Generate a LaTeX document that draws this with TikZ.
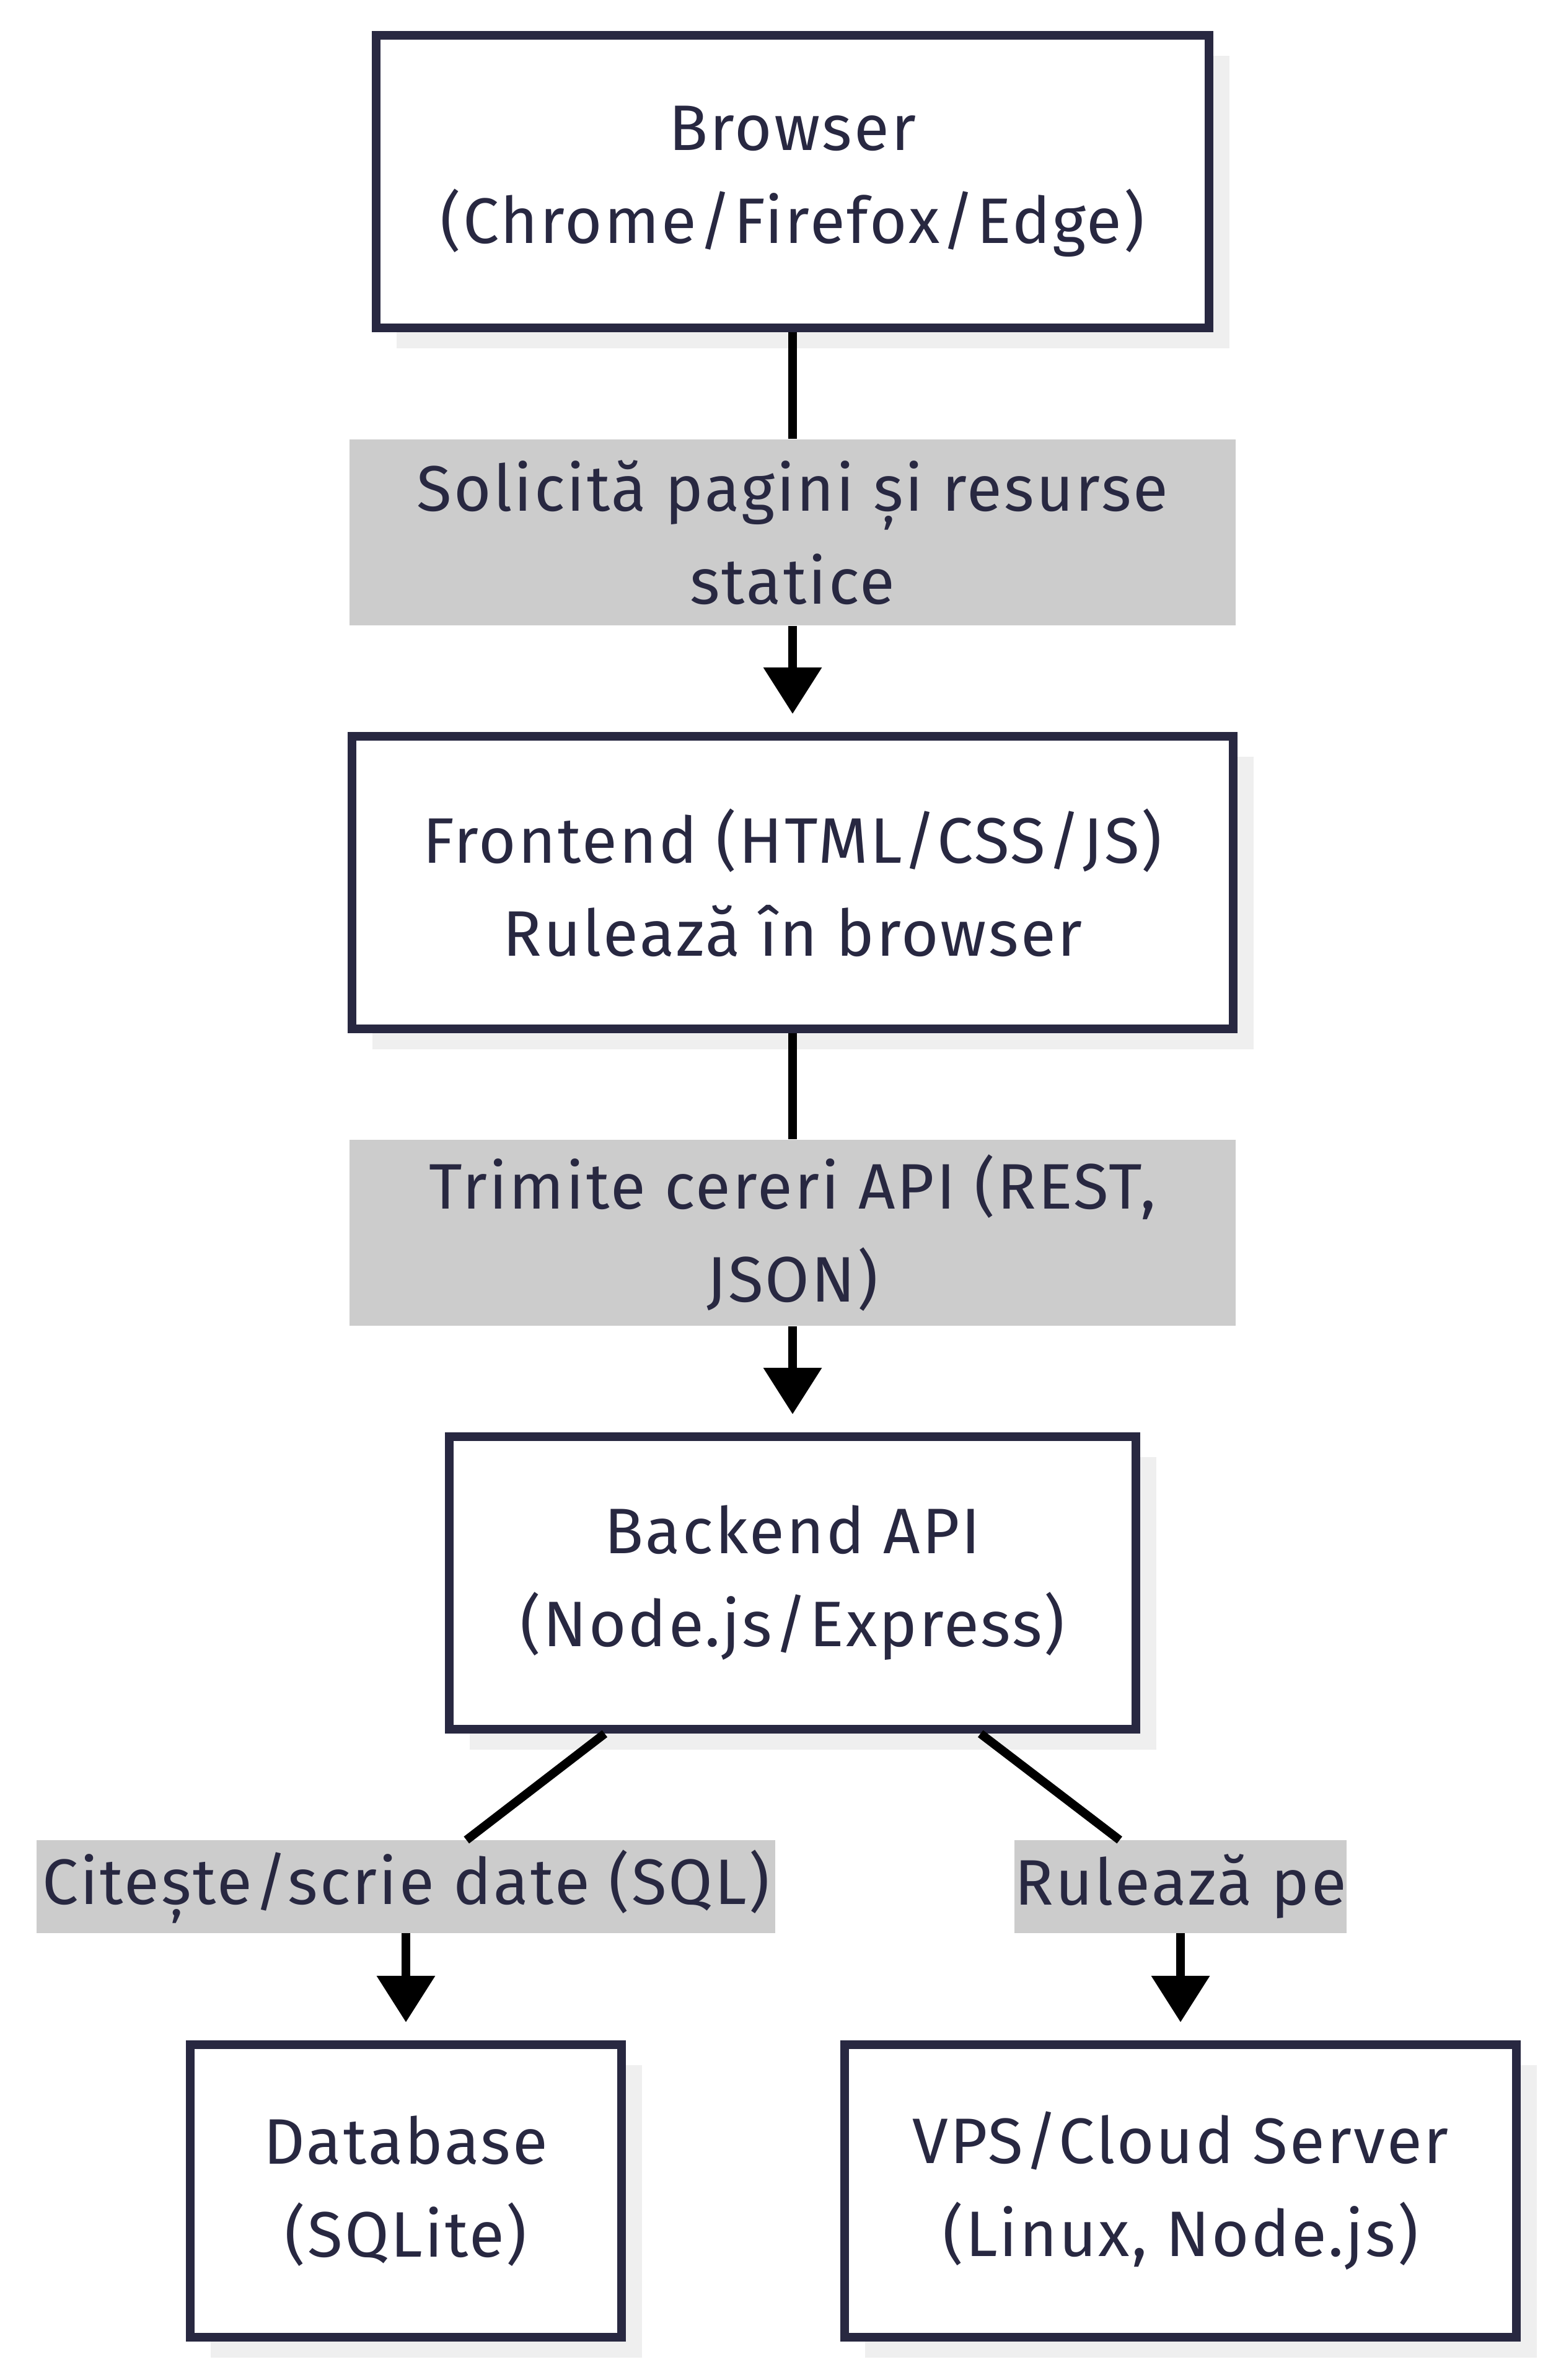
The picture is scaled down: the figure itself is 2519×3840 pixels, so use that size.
\documentclass[tikz,border=0pt]{standalone}
\usepackage{fontspec}
\setmainfont[LetterSpace=3]{Fira Sans}
\usepackage{tikz}
\usetikzlibrary{arrows.meta,shadows}
\definecolor{ink}{HTML}{282841}
\definecolor{lblgray}{HTML}{CCCCCC}
\definecolor{shadowgray}{HTML}{EFEFEF}

\begin{document}
\begin{tikzpicture}[x=0.01cm, y=-0.01cm,
    box/.style={draw=ink, line width=0.14cm, fill=white, text=ink, align=center,
        inner sep=0pt, minimum height=4.72cm,
        drop shadow={shadow xshift=0.33cm, shadow yshift=-0.33cm, fill=shadowgray, opacity=1}},
    lbl/.style={fill=lblgray, text=ink, align=center, inner sep=0pt},
    link/.style={line width=0.14cm, black},
    arrow/.style={link, -{Triangle[length=0.75cm, width=0.91cm]}, shorten >=0.29cm},
    font=\fontsize{29.5}{42.7}\selectfont]
    \useasboundingbox (0,0) rectangle (2519,3840);

    % Boxes
    \node[box, minimum width=13.44cm] (browser) at (1279,293) {Browser\\(Chrome/Firefox/Edge)};
    \node[box, minimum width=14.21cm] (frontend) at (1279,1424) {Frontend (HTML/CSS/JS)\\Rulează în browser};
    \node[box, minimum width=11.08cm] (backend) at (1279,2554) {Backend API\\(Node.js/Express)};
    \node[box, minimum width=6.96cm] (database) at (655,3535) {Database\\(SQLite)};
    \node[box, minimum width=10.83cm] (server) at (1905,3535) {VPS/Cloud Server\\(Linux, Node.js)};

    % Edge labels
    \node[lbl, minimum width=14.30cm, minimum height=3.00cm] (lblPages) at (1279,859) {Solicită pagini și resurse\\statice};
    \node[lbl, minimum width=14.30cm, minimum height=3.00cm] (lblApi) at (1279,1989) {Trimite cereri API (REST,\\JSON)};
    \node[lbl, minimum width=11.92cm, minimum height=1.49cm] (lblDb) at (655,3044) {Citește/scrie date (SQL)};
    \node[lbl, minimum width=5.33cm, minimum height=1.49cm] (lblHost) at (1905,3044) {Rulează pe};

    % Connectors
    \draw[link] (browser) -- (lblPages);
    \draw[arrow] (lblPages) -- (frontend);
    \draw[link] (frontend) -- (lblApi);
    \draw[arrow] (lblApi) -- (backend);
    \draw[link] ([xshift=-3.03cm]backend.south) -- (lblDb);
    \draw[arrow] (lblDb) -- (database);
    \draw[link] ([xshift=3.03cm]backend.south) -- (lblHost);
    \draw[arrow] (lblHost) -- (server);
\end{tikzpicture}
\end{document}
